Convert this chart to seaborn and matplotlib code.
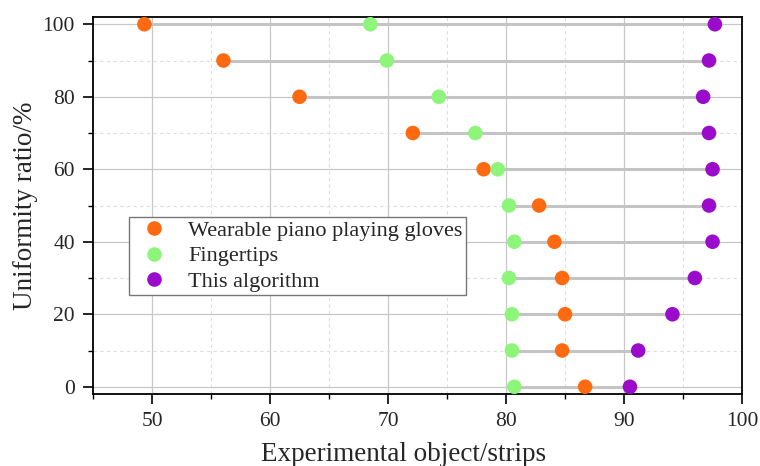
import numpy as np
import pandas as pd
import matplotlib
matplotlib.use("Agg")
import matplotlib.pyplot as plt
import seaborn as sns
from matplotlib.ticker import MultipleLocator

ratios = [100, 90, 80, 70, 60, 50, 40, 30, 20, 10, 0]
gloves = [49.35, 56.05, 62.5, 72.1, 78.1, 82.8, 84.1, 84.75, 85.0, 84.75, 86.7]
fingertips = [68.5, 69.9, 74.3, 77.4, 79.3, 80.25, 80.7, 80.25, 80.5, 80.5, 80.7]
algorithm = [97.7, 97.2, 96.7, 97.2, 97.5, 97.2, 97.5, 96.0, 94.1, 91.2, 90.5]
series_names = ["Wearable piano playing gloves", "Fingertips", "This algorithm"]
colors = ["#FF6A10", "#8CF57A", "#9A0BCB"]

df = pd.DataFrame({
    "ratio": ratios * 3,
    "value": gloves + fingertips + algorithm,
    "method": sum([[n] * len(ratios) for n in series_names], []),
})

sns.set_theme(style="white")
plt.rcParams["font.family"] = ["Liberation Serif", "DejaVu Serif"]

fig = plt.figure(figsize=(7.6, 4.66), dpi=100)
ax = fig.add_axes([0.1224, 0.1545, 0.8540, 0.8090])

ax.set_xlim(45, 100)
ax.set_ylim(-2, 102)
ax.xaxis.set_major_locator(MultipleLocator(10))
ax.xaxis.set_minor_locator(MultipleLocator(5))
ax.yaxis.set_major_locator(MultipleLocator(20))
ax.yaxis.set_minor_locator(MultipleLocator(10))
ax.grid(True, which="major", color="#c8c8c8", linewidth=0.9, linestyle="-")
ax.grid(True, which="minor", color="#dddddd", linewidth=0.8, linestyle=(0, (3, 3)))
ax.set_axisbelow(True)

grp = df.groupby("ratio")["value"]
lo = grp.min()
hi = grp.max()
ax.hlines(lo.index, lo.values, hi.values, color="#c4c4c4", linewidth=2.2, zorder=2)

sns.scatterplot(data=df, x="value", y="ratio", hue="method", hue_order=series_names,
                palette=colors, s=110, edgecolor="none", ax=ax, zorder=3)

for sp in ax.spines.values():
    sp.set_color("black")
    sp.set_linewidth(1.3)

ax.tick_params(which="major", direction="out", length=7, width=1.2, color="black",
               labelsize=15.5, bottom=True, left=True)
ax.tick_params(which="minor", direction="out", length=3.5, width=1.0, color="black",
               bottom=True, left=True)
ax.tick_params(axis="x", which="major", pad=6)
ax.tick_params(axis="y", which="major", pad=6)

ax.set_xlabel("Experimental object/strips", fontsize=19.5)
ax.set_ylabel("Uniformity ratio/%", fontsize=19.5, labelpad=3)
ax.xaxis.set_label_coords(0.479, -0.128)

leg = ax.legend(loc="upper left", bbox_to_anchor=(0.0555, 0.4695), borderaxespad=0,
                fontsize=16, frameon=True, fancybox=False, edgecolor="#777777",
                framealpha=1, borderpad=0.15, labelspacing=0.22, handlelength=1.95,
                handletextpad=0.55, markerscale=1.0)
leg.get_frame().set_linewidth(1.0)

fig.savefig("out.png", dpi=100)
